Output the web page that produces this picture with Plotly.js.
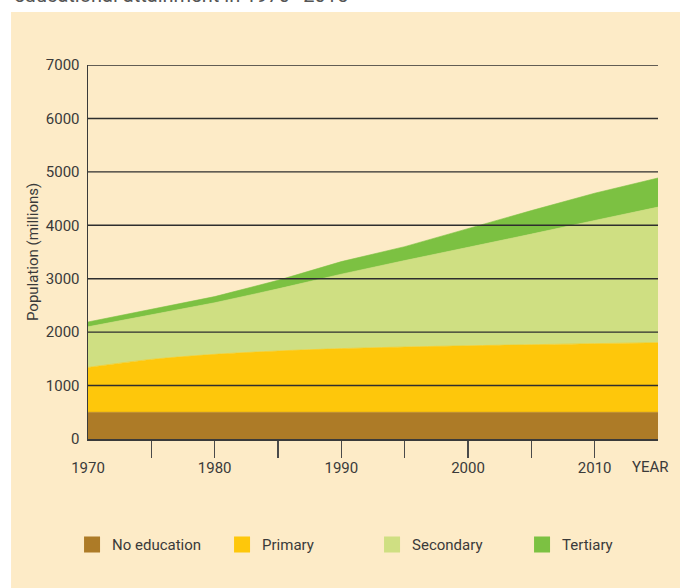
<!DOCTYPE html>
<html>
<head>
<meta charset="utf-8">
<script src="https://cdn.plot.ly/plotly-3.0.1.min.js"></script>
<style>html,body{margin:0;padding:0;background:#fff;}#chart{width:680px;height:588px;}</style>
</head>
<body>
<div id="chart"></div>
<script>
// ---- data (millions of people) ----
const years = [1970, 1975, 1980, 1985, 1990, 1995, 2000, 2005, 2010, 2015];
const noEducation = [500, 500, 500, 500, 500, 500, 500, 500, 500, 500];
const primary = [840, 990, 1085, 1148, 1192, 1222, 1245, 1265, 1285, 1303];
const secondary = [760, 840, 965, 1162, 1393, 1618, 1840, 2070, 2305, 2537];
const tertiary = [90, 100, 115, 160, 235, 260, 355, 440, 510, 545];

const seriesNames = ['No education', 'Primary', 'Secondary', 'Tertiary'];
const seriesColors = ['#ad7b27', '#fec70b', '#cfdf82', '#7cc142'];

const tickMarkYears = [1975, 1980, 1985, 1990, 1995, 2000, 2005, 2010];
const labelYears = [1970, 1980, 1990, 2000, 2010];
const labelText = ['1970', '1980', '1990', '2000', '2010'];
const yTicks = [0, 1000, 2000, 3000, 4000, 5000, 6000, 7000];
const gridValues = [1000, 2000, 3000, 4000, 5000, 6000, 7000];

const titleText = 'educational attainment in 1970–2015';
const yTitle = 'Population (millions)';
const xUnit = 'YEAR';

const beige = '#fdebc7';
const ink = '#3a3a3a';
const fontFamily = 'Roboto, "Liberation Sans", Arial, sans-serif';

const seriesValues = [noEducation, primary, secondary, tertiary];
const shapesLine = ['linear', 'spline', 'linear', 'linear'];

const traces = [];
seriesValues.forEach((vals, i) => {
  traces.push({
    type: 'scatter', mode: 'lines', x: years, y: vals,
    stackgroup: 'edu', fillcolor: seriesColors[i],
    line: {width: 0.6, color: seriesColors[i], shape: shapesLine[i], smoothing: 0.8},
    name: seriesNames[i], showlegend: false, hoverinfo: 'skip'
  });
});
// legend swatches
seriesNames.forEach((n, i) => {
  traces.push({
    type: 'scatter', mode: 'markers', x: [null], y: [null], name: n,
    marker: {symbol: 'square', size: 18, color: seriesColors[i]},
    showlegend: true, hoverinfo: 'skip'
  });
});
// carrier for the label axis
traces.push({type: 'scatter', mode: 'markers', x: [null], y: [null], xaxis: 'x2', yaxis: 'y', showlegend: false, hoverinfo: 'skip'});

const shapes = [{
  type: 'rect', xref: 'paper', yref: 'paper', x0: -0.135, x1: 1.05, y0: -0.42, y1: 1.1417,
  fillcolor: beige, line: {width: 0}, layer: 'below'
}];
gridValues.forEach(v => shapes.push({
  type: 'line', xref: 'paper', x0: 0, x1: 1, yref: 'y', y0: v, y1: v,
  line: {color: '#2e2e2e', width: 1.4}, layer: 'above'
}));

const layout = {
  width: 680, height: 588,
  margin: {l: 88, r: 21.5, t: 65, b: 149, pad: 0},
  paper_bgcolor: '#ffffff', plot_bgcolor: 'rgba(0,0,0,0)',
  font: {family: fontFamily, size: 15, color: ink},
  showlegend: true,
  xaxis: {
    range: [1970, 2015], tickvals: tickMarkYears, showticklabels: false,
    ticks: 'outside', ticklen: 17, tickwidth: 1.3, tickcolor: '#4a4a4a',
    showgrid: false, zeroline: false, showline: true, linecolor: ink, linewidth: 1.5,
    layer: 'above traces', fixedrange: true
  },
  xaxis2: {
    overlaying: 'x', anchor: 'y', side: 'bottom', range: [1970, 2015],
    tickvals: labelYears, ticktext: labelText, ticks: 'outside', ticklen: 15,
    tickcolor: 'rgba(0,0,0,0)', showgrid: false, zeroline: false, showline: false,
    tickfont: {size: 15, color: ink}, fixedrange: true
  },
  yaxis: {
    range: [0, 7000], tickvals: yTicks, ticks: 'outside', ticklen: 4, tickcolor: 'rgba(0,0,0,0)',
    showgrid: false, zeroline: false, showline: true, linecolor: ink, linewidth: 1.5,
    layer: 'above traces', tickfont: {size: 15, color: ink}, fixedrange: true
  },
  legend: {
    orientation: 'h', x: -0.028, xanchor: 'left', y: -0.283, yanchor: 'middle',
    entrywidth: 105, entrywidthmode: 'pixels', itemwidth: 30,
    bgcolor: 'rgba(0,0,0,0)', font: {size: 15, color: ink}, traceorder: 'normal'
  },
  shapes: shapes,
  annotations: [
    {text: titleText, xref: 'paper', x: -0.1332, xanchor: 'left', yref: 'paper', y: 1, yanchor: 'bottom', yshift: 56,
     showarrow: false, font: {size: 20, color: '#555555'}},
    {text: yTitle, xref: 'paper', x: 0, xshift: -55, xanchor: 'center', yref: 'paper', y: 0.5, yanchor: 'middle',
     textangle: -90, showarrow: false, font: {size: 15, color: ink}},
    {text: xUnit, xref: 'paper', x: 1, xshift: -8, xanchor: 'center', yref: 'paper', y: 0, yshift: -28, yanchor: 'middle',
     showarrow: false, font: {size: 15, color: ink}}
  ]
};

Plotly.newPlot('chart', traces, layout, {displayModeBar: false, staticPlot: true});
</script>
</body>
</html>
